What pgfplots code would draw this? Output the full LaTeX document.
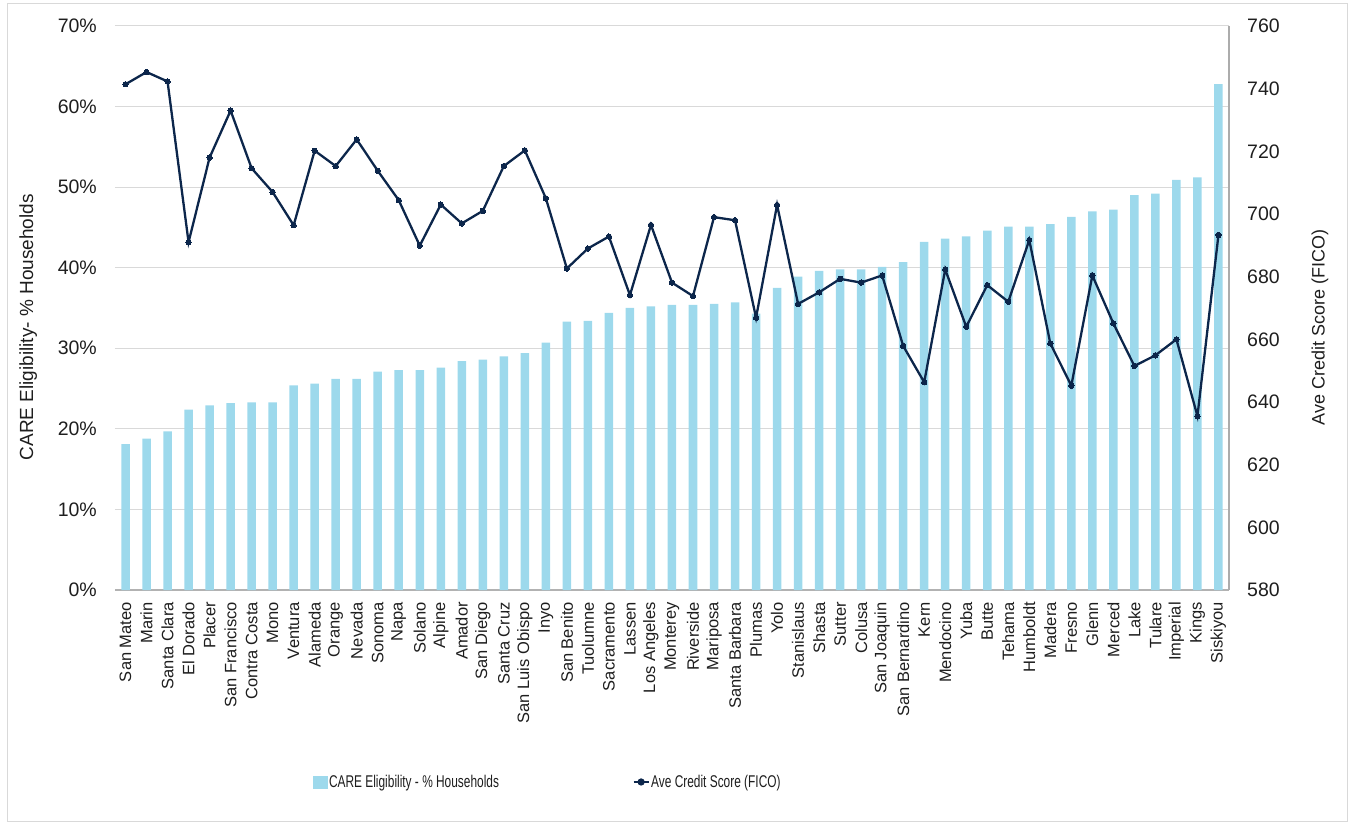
\documentclass[border=0pt]{standalone}
\usepackage{pgfplots}
\usepackage{pgfplotstable}
\pgfplotsset{compat=1.18}
\usepackage{fontspec}
\setmainfont{Liberation Sans}
\newfontfamily\narrowfont[FakeStretch=0.70]{Liberation Sans}
\definecolor{barcol}{RGB}{157,217,236}
\definecolor{navy}{RGB}{12,38,75}
\definecolor{gridc}{RGB}{217,217,217}
\definecolor{txt}{RGB}{30,30,30}

\pgfplotstableread{
idx pct fico
0 18.1 741.4
1 18.8 745.3
2 19.7 742.3
3 22.4 691.0
4 22.9 718.0
5 23.2 733.0
6 23.3 714.6
7 23.3 707.0
8 25.4 696.4
9 25.6 720.2
10 26.2 715.3
11 26.2 723.8
12 27.1 713.8
13 27.3 704.4
14 27.3 689.9
15 27.6 703.0
16 28.4 697.0
17 28.6 701.0
18 29.0 715.3
19 29.4 720.3
20 30.7 705.0
21 33.3 682.6
22 33.4 689.0
23 34.4 692.8
24 35.0 674.1
25 35.2 696.5
26 35.4 678.1
27 35.4 673.8
28 35.5 699.0
29 35.7 698.0
30 34.3 666.9
31 37.5 702.9
32 38.9 671.3
33 39.6 675.0
34 39.8 679.3
35 39.8 678.1
36 40.1 680.4
37 40.7 657.9
38 43.2 646.3
39 43.6 682.3
40 43.9 664.0
41 44.6 677.3
42 45.1 672.0
43 45.1 691.7
44 45.4 658.7
45 46.3 645.2
46 47.0 680.4
47 47.2 665.1
48 49.0 651.5
49 49.2 654.9
50 50.9 660.0
51 51.2 635.5
52 62.8 693.3
}\datatable

\begin{document}
\begin{tikzpicture}
\useasboundingbox (-115bp,-234bp) rectangle (1236bp,590bp);
\draw[gridc, line width=0.8bp] (-108bp,-231bp) rectangle (1232bp,587bp);
\begin{axis}[
  at={(0bp,0bp)}, anchor=south west,
  scale only axis,
  width=1114bp, height=564bp,
  xmin=-0.5, xmax=52.5,
  ymin=0, ymax=70,
  ytick={0,10,...,70},
  yticklabel={\pgfmathprintnumber{\tick}\%},
  /pgf/number format/assume math mode=true,
  xtick={0,...,52},
  xticklabels={San Mateo, Marin, Santa Clara, El Dorado, Placer, San Francisco, Contra Costa, Mono, Ventura, Alameda, Orange, Nevada, Sonoma, Napa, Solano, Alpine, Amador, San Diego, Santa Cruz, San Luis Obispo, Inyo, San Benito, Tuolumne, Sacramento, Lassen, Los Angeles, Monterey, Riverside, Mariposa, Santa Barbara, Plumas, Yolo, Stanislaus, Shasta, Sutter, Colusa, San Joaquin, San Bernardino, Kern, Mendocino, Yuba, Butte, Tehama, Humboldt, Madera, Fresno, Glenn, Merced, Lake, Tulare, Imperial, Kings, Siskiyou},
  xticklabel style={rotate=90, anchor=east, font=\fontsize{16.5bp}{19bp}\selectfont, text=txt, inner sep=0pt},
  xticklabel shift=12bp,
  yticklabel style={font=\fontsize{19.5bp}{22bp}\selectfont, text=txt, inner sep=0pt, xshift=-18bp},
  axis x line*=bottom, axis y line*=left,
  y axis line style={draw=none},
  x axis line style={draw=gray!60, line width=1.6bp, -},
  major tick length=0pt,
  tick style={draw=none},
  ymajorgrids, grid style={gridc, line width=1bp},
  ylabel={CARE Eligibility- \% Households},
  ylabel style={at={(axis description cs:-0.078,0.466)}, anchor=center, rotate=0, font=\fontsize{19bp}{22bp}\selectfont, text=txt},
  clip=false,
]
\addplot[ybar, bar width=8.5bp, fill=barcol, draw=none, bar shift=0pt] table[x=idx, y=pct] {\datatable};
\end{axis}
\begin{axis}[
  at={(0bp,0bp)}, anchor=south west,
  scale only axis,
  width=1114bp, height=564bp,
  xmin=-0.5, xmax=52.5,
  ymin=580, ymax=760,
  ytick={580,600,...,760},
  /pgf/number format/assume math mode=true,
  /pgf/number format/1000 sep={},
  axis y line*=right, axis x line=none,
  xtick=\empty,
  y axis line style={draw=gray!65, line width=1.2bp, -},
  major tick length=0pt,
  tick style={draw=none},
  yticklabel style={font=\fontsize{19.5bp}{22bp}\selectfont, text=txt, inner sep=0pt, xshift=18bp, anchor=west},
  ylabel={Ave Credit Score (FICO)},
  ylabel style={at={(axis description cs:1.0817,0.466)}, anchor=center, rotate=0, font=\fontsize{18bp}{21bp}\selectfont, text=txt},
  legend columns=2,
  legend style={draw=none, fill=none, at={(axis description cs:0.1777,-0.3404)}, anchor=west, inner sep=0pt,
    font=\narrowfont\fontsize{17bp}{20bp}\selectfont, text=txt,
    /tikz/every even column/.append style={column sep=132bp},
    nodes={inner sep=1.5bp}},
  clip=false,
]
\addlegendimage{legend image code/.code={\fill[barcol] (0bp,-6bp) rectangle (14bp,6bp);}}
\addlegendentry{CARE Eligibility - \% Households}
\addplot[navy, line width=2.3bp, mark=*, mark size=2.7bp, mark options={fill=navy, draw=navy, line width=0pt},
  legend image code/.code={\draw[navy,line width=2.2bp] (0bp,0bp) -- (15bp,0bp); \fill[navy] (7.5bp,0bp) circle (2.4bp);}]
  table[x=idx, y=fico] {\datatable};
\addlegendentry{Ave Credit Score (FICO)}
\end{axis}
\end{tikzpicture}
\end{document}
